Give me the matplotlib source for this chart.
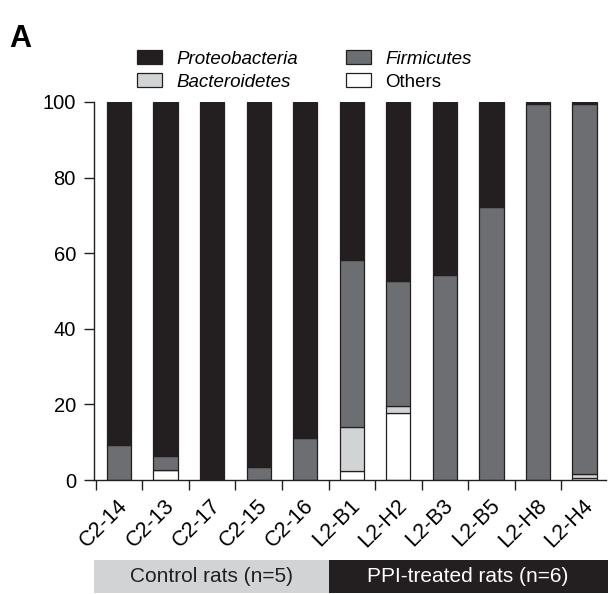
"""Stacked phylum composition per rat sample, control vs PPI-treated."""
import matplotlib
matplotlib.use("Agg")
import matplotlib.pyplot as plt
import matplotlib.transforms as mtransforms
from matplotlib.patches import Rectangle, Patch
import numpy as np

plt.rcParams["font.family"] = ["Liberation Sans", "DejaVu Sans"]

samples = ["C2-14", "C2-13", "C2-17", "C2-15", "C2-16",
           "L2-B1", "L2-H2", "L2-B3", "L2-B5", "L2-H8", "L2-H4"]
others = np.array([0, 2.6, 0, 0, 0, 2.3, 17.8, 0, 0, 0, 0.6])
bacteroidetes = np.array([0, 0, 0, 0, 0, 11.8, 1.8, 0, 0, 0, 0.9])
firmicutes = np.array([9.3, 3.7, 0, 3.5, 11.0, 44.0, 33.0, 54.3, 72.3, 99.6, 97.9])
proteobacteria = 100 - others - bacteroidetes - firmicutes

groups = ["Control rats (n=5)", "PPI-treated rats (n=6)"]
group_sizes = [5, 6]

EDGE = "#231f20"
colors = {"Proteobacteria": "#231f20", "Firmicutes": "#6d6e71",
          "Bacteroidetes": "#d1d3d4", "Others": "#ffffff"}

fig = plt.figure(figsize=(6.08, 5.94), dpi=100)
ax = fig.add_axes([94 / 608, 0.1919, 512 / 608, 0.6364])

x = np.arange(len(samples))
w = 0.52
bottom = np.zeros(len(samples))
for name, vals in [("Others", others), ("Bacteroidetes", bacteroidetes),
                   ("Firmicutes", firmicutes), ("Proteobacteria", proteobacteria)]:
    ax.bar(x, vals, w, bottom=bottom, color=colors[name], edgecolor=EDGE, lw=0.9)
    bottom += vals

ax.set_xlim(-0.537, 10.46)
ax.set_ylim(0, 100)
ax.set_yticks([0, 20, 40, 60, 80, 100])
ax.tick_params(axis="y", labelsize=14.5, length=7, width=1, color=EDGE, pad=6)
ax.set_xticks(np.arange(-0.5, len(samples) - 1, 1.0))
ax.set_xticklabels([])
ax.tick_params(axis="x", which="major", length=7, width=1, color=EDGE)
ax.set_xticks(x, samples, minor=True)
ax.tick_params(axis="x", which="minor", length=0, labelsize=15.5, pad=11)
for lab in ax.get_xticklabels(minor=True):
    lab.set_rotation(45); lab.set_ha("right"); lab.set_va("top")
    lab.set_rotation_mode("anchor")
    lab.set_transform(lab.get_transform() + mtransforms.ScaledTranslation(-2 / 100, 0, fig.dpi_scale_trans))
for s in ["top", "right"]:
    ax.spines[s].set_visible(False)
for s in ["left", "bottom"]:
    ax.spines[s].set_color(EDGE); ax.spines[s].set_linewidth(1)

handles = [Patch(facecolor=colors[n], edgecolor=EDGE, lw=0.9) for n in
           ["Proteobacteria", "Bacteroidetes", "Firmicutes", "Others"]]
leg = fig.legend(handles, ["Proteobacteria", "Bacteroidetes", "Firmicutes", "Others"],
                 ncol=2, loc="upper left", bbox_to_anchor=(124 / 608, 1 - 37 / 594),
                 frameon=False, fontsize=13.5, handlelength=1.35, handleheight=0.75,
                 handletextpad=0.75, columnspacing=2.55, labelspacing=0.3,
                 borderpad=0.2)
for t in leg.get_texts():
    if t.get_text() != "Others":
        t.set_style("italic")

fig.text(9 / 608, 1 - 47 / 594, "A", fontsize=22, fontweight="bold", va="baseline")

# group bars below the axis
trans = mtransforms.blended_transform_factory(ax.transData, fig.transFigure)
edges = [-0.537, group_sizes[0] - 0.5, 11.0]
fills = ["#d1d3d4", "#231f20"]
tcol = ["#231f20", "white"]
for i, g in enumerate(groups):
    r = Rectangle((edges[i], 1 / 594), edges[i + 1] - edges[i], 33 / 594,
                  transform=trans, facecolor=fills[i], edgecolor="none", clip_on=False)
    fig.add_artist(r)
    right = min(edges[i + 1], 10.46)
    fig.text((edges[i] + right) / 2, 17 / 594, g, transform=trans, ha="center",
             va="center", fontsize=15, color=tcol[i])

fig.savefig("out.png", dpi=100)
